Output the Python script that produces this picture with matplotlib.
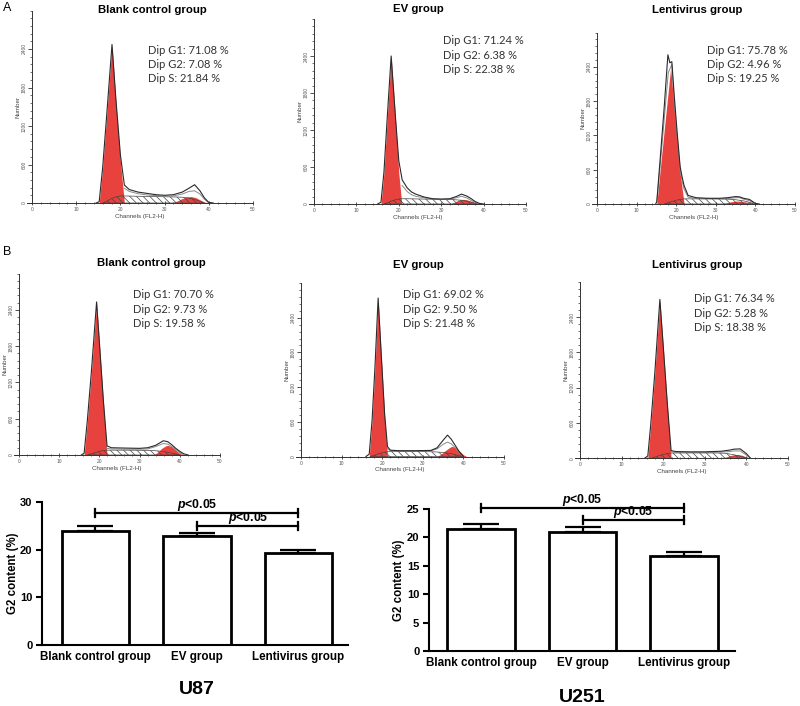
import matplotlib
matplotlib.use('Agg')
import matplotlib.pyplot as plt
import numpy as np

plt.rcParams['font.family'] = ['Liberation Sans', 'DejaVu Sans']
plt.rcParams['hatch.linewidth'] = 0.5
plt.rcParams['mathtext.fontset'] = 'custom'
plt.rcParams['mathtext.it'] = 'Liberation Sans:italic:bold'
plt.rcParams['mathtext.rm'] = 'Liberation Sans:bold'

# ---------------- data ----------------
group_names = ["Blank control group", "EV group", "Lentivirus group"]
row_labels = ["A", "B"]

dip_g1 = ["71.08", "71.24", "75.78", "70.70", "69.02", "76.34"]
dip_g2 = ["7.08", "6.38", "4.96", "9.73", "9.50", "5.28"]
dip_s = ["21.84", "22.38", "19.25", "19.58", "21.48", "18.38"]

# G1 peak (red) per panel: channels / counts
g1_ch = [[15.2, 16, 17, 18.1, 19, 20, 20.9],
         [15.8, 16.5, 17.2, 18.2, 19.2, 20, 20.7],
         [15.1, 16, 17, 18.6, 19.5, 20.3, 21.0, 22],
         [16.2, 17, 18, 19.3, 20, 21, 21.9],
         [16.8, 17.5, 18.2, 19, 19.8, 20.6, 21.3],
         [16.3, 17, 18, 19.2, 20, 21, 21.9]]
g1_n = [[0, 550, 1450, 2460, 1560, 650, 0],
        [0, 500, 1300, 2390, 1400, 500, 0],
        [0, 630, 1310, 2380, 1690, 1080, 540, 0],
        [0, 550, 1350, 2515, 1840, 870, 0],
        [0, 600, 1500, 2720, 1700, 700, 0],
        [0, 550, 1450, 2690, 1900, 900, 0]]

# G2 peak (red)
g2_ch = [[31, 32, 33, 34, 35, 36, 37, 38, 39, 40],
         [32, 33, 34, 35, 36, 37, 38, 39],
         [31, 32, 33, 34, 35, 36, 37, 38, 39, 40],
         [33.5, 34.5, 35.5, 36.5, 37, 38, 39, 40, 41],
         [33.5, 34.5, 35.5, 36.5, 37.1, 38, 39, 40, 40.8],
         [33.5, 35, 36, 37, 38, 39, 40, 41]]
g2_n = [[0, 10, 35, 70, 95, 100, 85, 50, 15, 0],
        [0, 25, 60, 75, 70, 45, 15, 0],
        [0, 10, 25, 40, 50, 50, 42, 30, 15, 0],
        [0, 45, 110, 150, 160, 140, 80, 25, 0],
        [0, 40, 100, 150, 175, 160, 100, 30, 0],
        [0, 20, 45, 60, 65, 50, 20, 0]]

# S phase (hatched)
s_ch = [[16, 17, 18, 19, 20, 21, 24, 28, 32, 34, 36, 37, 38, 39],
        [16.5, 17.5, 18.5, 19.5, 20.5, 22, 26, 30, 33, 35, 36, 37, 38, 39],
        [17, 18, 19, 20, 21, 22, 25, 30, 33, 35, 37, 38.5, 40],
        [17, 18, 19, 20, 21, 22, 26, 30, 33, 35, 37, 39, 40],
        [17, 18, 19, 20, 21, 22, 26, 30, 33, 35, 37, 38.5, 40],
        [17, 18, 19, 20, 21, 22, 26, 30, 33, 35, 37, 39, 40.5]]
s_n = [[0, 30, 70, 95, 110, 110, 105, 100, 95, 90, 70, 50, 25, 0],
       [0, 25, 55, 75, 85, 85, 80, 75, 70, 60, 45, 30, 15, 0],
       [0, 25, 45, 65, 80, 90, 90, 90, 85, 75, 55, 30, 0],
       [0, 20, 40, 60, 75, 80, 80, 78, 75, 65, 45, 15, 0],
       [0, 20, 45, 65, 80, 85, 85, 85, 80, 70, 50, 20, 0],
       [0, 20, 45, 65, 80, 90, 92, 92, 90, 85, 60, 25, 0]]

# measured histogram outline
data_ch = [[14.5, 15.2, 16, 17, 18.1, 19, 20, 20.9, 22, 24, 26, 28, 30, 32, 34, 35.5, 36.8, 38, 39, 40, 41],
           [15, 15.8, 16.5, 17.2, 18.2, 19.2, 20, 20.8, 22, 23, 24, 26, 28, 30, 32, 33.5, 34.8, 36, 37, 38, 39, 40],
           [14.8, 15.1, 16, 17, 17.9, 18.4, 18.9, 19.5, 20.3, 21.0, 21.5, 22, 23, 25, 28, 31, 33, 35, 36, 37, 38.5, 40, 41],
           [15.5, 16.2, 17, 18, 19.3, 20, 21, 21.9, 23, 26, 30, 32, 34, 35.9, 37, 38, 39, 40, 41, 42],
           [16, 16.8, 17.5, 18.2, 19, 19.8, 20.6, 21.3, 22, 24, 28, 32, 33.5, 35, 36.1, 37, 38, 39, 40],
           [15.5, 16.3, 17, 18, 19.2, 20, 21, 21.9, 23, 26, 30, 32, 34, 36, 37, 38.5, 40, 41]]
data_n = [[0, 20, 560, 1460, 2470, 1600, 750, 280, 210, 170, 150, 130, 120, 130, 170, 230, 285, 190, 80, 10, 0],
          [0, 30, 520, 1320, 2400, 1420, 700, 390, 260, 195, 160, 113, 85, 80, 85, 120, 160, 130, 90, 40, 10, 0],
          [0, 40, 830, 1720, 2610, 2470, 2490, 1900, 1200, 650, 470, 320, 150, 110, 100, 100, 110, 130, 125, 100, 80, 10, 0],
          [0, 30, 570, 1370, 2530, 1860, 890, 150, 120, 115, 110, 120, 160, 235, 220, 170, 110, 60, 20, 0],
          [0, 40, 620, 1520, 2740, 1720, 730, 170, 110, 100, 100, 105, 150, 280, 370, 300, 190, 80, 0],
          [0, 40, 570, 1470, 2700, 1920, 920, 130, 115, 110, 110, 115, 120, 140, 155, 160, 80, 0]]

# model fit line
fit_ch = [[20.9, 22, 24, 26, 28, 30, 32, 34, 35.5, 36.8, 38, 39, 40],
          [20.8, 22, 23, 24, 26, 28, 30, 32, 33.5, 34.8, 36, 37, 38, 39],
          [15.1, 16, 17, 18, 18.9, 19.5, 20.3, 21.0, 21.5, 22, 23, 25, 28, 31, 33, 35, 36, 37, 38.5, 40],
          [21.9, 23, 26, 30, 32, 34, 35.9, 37, 38, 39, 40, 41],
          [21.3, 22, 24, 28, 32, 33.5, 35, 36.1, 37, 38, 39, 40],
          [21.9, 23, 26, 30, 32, 34, 36, 37, 38.5, 40, 41]]
fit_n = [[230, 180, 145, 125, 115, 105, 110, 140, 180, 190, 140, 60, 0],
         [300, 200, 150, 125, 100, 80, 75, 80, 100, 125, 100, 60, 25, 0],
         [30, 700, 1500, 2300, 2440, 1800, 1150, 600, 400, 260, 120, 95, 90, 90, 95, 110, 110, 85, 60, 0],
         [110, 100, 95, 95, 100, 140, 190, 180, 140, 90, 40, 0],
         [140, 100, 95, 95, 100, 130, 210, 250, 220, 150, 60, 0],
         [110, 100, 95, 95, 100, 105, 115, 125, 125, 55, 0]]

# G2 content bar charts
u87_vals = [23.9, 22.8, 19.3]
u87_err = [1.0, 0.8, 0.6]
u251_vals = [21.4, 21.0, 16.7]
u251_err = [0.9, 0.9, 0.8]
p_text = r'$p$<0.05'

# ---------------- layout ----------------
W, H = 800, 706
fig = plt.figure(figsize=(W / 100, H / 100), dpi=100)
RED = '#e8423f'


def add_ax(x0, x1, ybot, ytop):
    return fig.add_axes([x0 / W, 1 - ybot / H, (x1 - x0) / W, (ybot - ytop) / H])


# (px of channel 0, px of channel 50, baseline px, px per 600 counts)
hist_layout = [(32, 253, 203, 38.5), (314, 526, 204, 37.0), (597, 795, 204, 34.3),
               (19, 220, 455, 36.3), (301, 504, 456.5, 34.7), (580, 788, 458.3, 35.3)]
title_pos = [(152, 10), (418, 9), (697, 10), (151, 263), (418, 265), (697, 265)]
stat_pos = [(148, 50), (443, 41), (707, 50), (133, 295), (403, 295), (694, 299)]
YMAX = 3000
XMIN = -1.2

for i in range(6):
    x0, x50, base, p600 = hist_layout[i]
    ppc = (x50 - x0) / 50.0
    top = base - YMAX / 600.0 * p600
    ax = add_ax(x0 + XMIN * ppc, x50, base, top)
    ax.set_xlim(XMIN, 50)
    ax.set_ylim(0, YMAX)
    ax.fill_between(g1_ch[i], g1_n[i], color=RED, lw=0, zorder=2)
    ax.fill_between(g2_ch[i], g2_n[i], color=RED, lw=0, zorder=2)
    ax.fill_between(s_ch[i], s_n[i], facecolor='none', hatch='\\' * 5,
                    edgecolor='#444444', lw=0.5, zorder=3)
    ax.plot(fit_ch[i], fit_n[i], color='#8a8a8a', lw=0.7, zorder=4)
    ax.plot(data_ch[i], data_n[i], color='#2a2a2a', lw=0.8, zorder=5)

    for sp in ['top', 'right']:
        ax.spines[sp].set_visible(False)
    ax.spines['left'].set_position(('data', 0))
    for sp in ['left', 'bottom']:
        ax.spines[sp].set_linewidth(0.7)
        ax.spines[sp].set_color('#333333')
    ax.set_yticks(np.arange(0, 2401, 600))
    ax.set_yticks(np.arange(0, YMAX + 1, 120), minor=True)
    ax.set_yticklabels([str(v) for v in range(0, 2401, 600)], rotation=90,
                       va='center', fontsize=3.5, color='#555555')
    ax.set_xticks(np.arange(0, 51, 10))
    ax.set_xticks(np.arange(0, 51, 2), minor=True)
    ax.set_xticklabels([str(v) for v in range(0, 51, 10)], fontsize=3.5, color='#555555')
    ax.tick_params(axis='y', which='major', length=3, width=0.6, direction='out', pad=1, colors='#333333')
    ax.tick_params(axis='y', which='minor', length=1.8, width=0.5, direction='out', colors='#333333')
    ax.tick_params(axis='x', which='major', length=3, width=0.6, direction='inout', pad=1.5, colors='#333333')
    ax.tick_params(axis='x', which='minor', length=2, width=0.5, direction='inout', colors='#333333')
    for lab in ax.get_xticklabels() + ax.get_yticklabels():
        lab.set_color('#555555')
    ax.set_ylabel('Number', fontsize=4.5, labelpad=1, color='#444444')
    ax.set_xlabel('Channels (FL2-H)', fontsize=4.5, labelpad=1, color='#444444')
    ax.patch.set_alpha(0)

    tx, ty = title_pos[i]
    fig.text(tx / W, 1 - ty / H, group_names[i % 3], fontsize=8.2, fontweight='bold',
             ha='center', va='center')
    sx, sy = stat_pos[i]
    lines = [f'Dip G1: {dip_g1[i]} %', f'Dip G2: {dip_g2[i]} %', f'Dip S: {dip_s[i]} %']
    for k, t in enumerate(lines):
        fig.text(sx / W, 1 - (sy + 14.3 * k) / H, t, fontsize=8, family='Lato',
                 color='#333333', ha='left', va='center')

fig.text(7 / W, 1 - 8 / H, row_labels[0], fontsize=9, ha='center', va='center')
fig.text(7 / W, 1 - 252 / H, row_labels[1], fontsize=9, ha='center', va='center')


def bar_panel(x0, x1, y0px, ytop, ymax, yticks, vals, errs, lines, name, name_pos, ylab_x, xlim):
    ax = add_ax(x0, x1, y0px, ytop)
    x = np.arange(3)
    ax.errorbar(x, vals, yerr=[np.zeros(3), errs], fmt='none', ecolor='black',
                elinewidth=1.6, capsize=13, capthick=1.6, zorder=1)
    ax.bar(x, vals, width=0.665, color='white', edgecolor='black', linewidth=2.0, zorder=2)
    ax.set_xlim(*xlim)
    ax.set_ylim(0, ymax)
    for sp in ['top', 'right']:
        ax.spines[sp].set_visible(False)
    for sp in ['left', 'bottom']:
        ax.spines[sp].set_linewidth(1.5)
    ax.set_yticks(yticks)
    ax.set_yticklabels([str(v) for v in yticks], fontsize=8, fontweight='bold')
    ax.set_xticks(x)
    ax.set_xticklabels(group_names, fontsize=8.4, fontweight='bold')
    ax.tick_params(axis='y', length=4, width=1.5, pad=3)
    ax.tick_params(axis='x', length=0, pad=4)
    ax.set_ylabel('G2 content (%)', fontsize=8.3, fontweight='bold', labelpad=4)
    ax.yaxis.set_label_coords((ylab_x - x0) / (x1 - x0), 0.5)
    unit_px = (y0px - ytop) / ymax
    d = 4.0 / unit_px
    for (xa, xb, yy) in lines:
        ax.plot([xa, xb], [yy, yy], color='black', lw=1.6, clip_on=False)
        ax.plot([xa, xa], [yy - d, yy + d], color='black', lw=1.6, clip_on=False)
        ax.plot([xb, xb], [yy - d, yy + d], color='black', lw=1.6, clip_on=False)
        ax.text((xa + xb) / 2, yy, p_text, fontsize=8.8, fontweight='bold',
                ha='center', va='bottom', clip_on=False)
    fig.text(name_pos[0] / W, 1 - name_pos[1] / H, name, fontsize=14, fontweight='bold',
             ha='center', va='center')
    return ax


bar_panel(42, 348, 645, 502, 30, [0, 10, 20, 30], u87_vals, u87_err,
          [(0, 2, 27.7), (1, 2, 24.9)], 'U87', (197, 690), 19, (-0.527, 2.488))
bar_panel(429, 735, 651, 509, 25, [0, 5, 10, 15, 20, 25], u251_vals, u251_err,
          [(0, 2, 25.1), (1, 2, 23.1)], 'U251', (582, 697), 405, (-0.512, 2.502))

fig.savefig('out.png', dpi=100)
